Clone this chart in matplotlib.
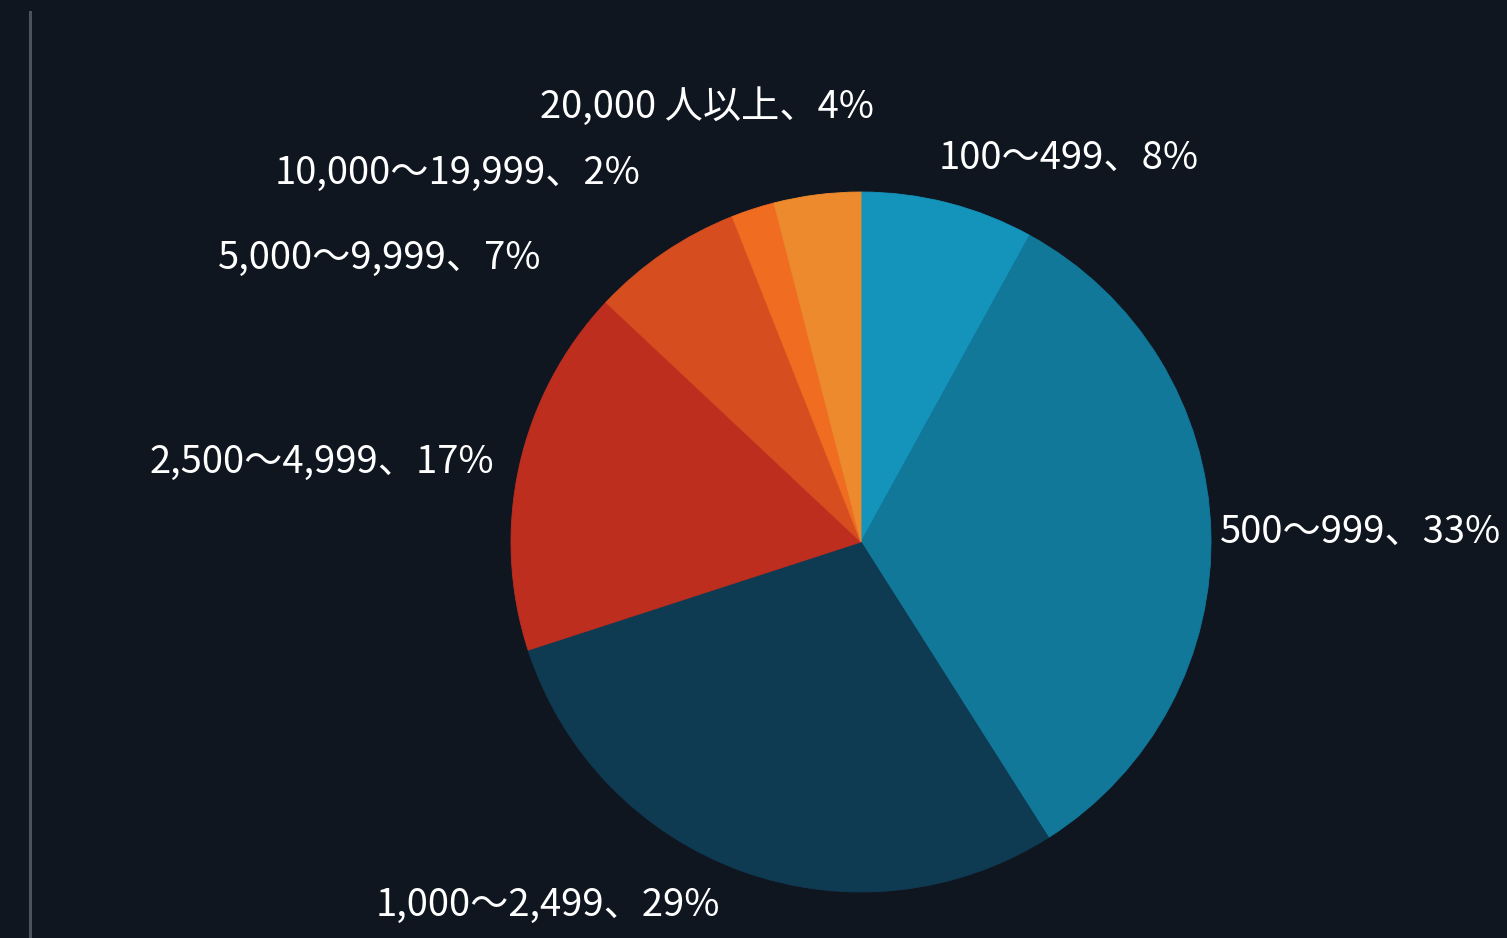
import matplotlib
matplotlib.use("Agg")
import matplotlib.pyplot as plt
from matplotlib.lines import Line2D

plt.rcParams['font.family'] = ['Noto Sans CJK JP', 'DejaVu Sans']

# Company size bands (employees) and their share
categories = ["100〜499", "500〜999", "1,000〜2,499", "2,500〜4,999",
              "5,000〜9,999", "10,000〜19,999", "20,000 人以上"]
shares = [8, 33, 29, 17, 7, 2, 4]

colors = ["#1493bb", "#11789a", "#0e3a52", "#bd2e1e",
          "#d64e1f", "#ef6c21", "#ee8a2e"]

# Label anchor points in figure pixels (x from left, y from top)
label_pos = [(1069, 158), (1361, 532), (548, 905), (322, 462),
             (380, 258), (458, 173), (707, 107)]

W, H = 1507, 938
BG = "#0f1620"

fig = plt.figure(figsize=(W / 100, H / 100), dpi=100, facecolor=BG)
ax = fig.add_axes([0, 0, 1, 1])
ax.set_facecolor(BG)

cx, cy, r = 861, H - 542, 350
ax.pie(shares, colors=colors, startangle=90, counterclock=False,
       center=(cx, cy), radius=r, frame=True,
       wedgeprops=dict(linewidth=0.6))
for w, c in zip(ax.patches, colors):
    w.set_edgecolor(c)
ax.set_xlim(0, W)
ax.set_ylim(0, H)
ax.set_aspect('equal')
ax.axis('off')

for cat, s, (lx, ly) in zip(categories, shares, label_pos):
    ax.text(lx, H - ly, f"{cat}、{s}%", color="white", fontsize=27.5,
            ha="center", va="center")

# thin vertical rule on the left
ax.add_line(Line2D([29.5, 29.5], [0, H - 12], color="#4b5259", linewidth=2.2))

fig.savefig("out.png", dpi=100, facecolor=BG)
